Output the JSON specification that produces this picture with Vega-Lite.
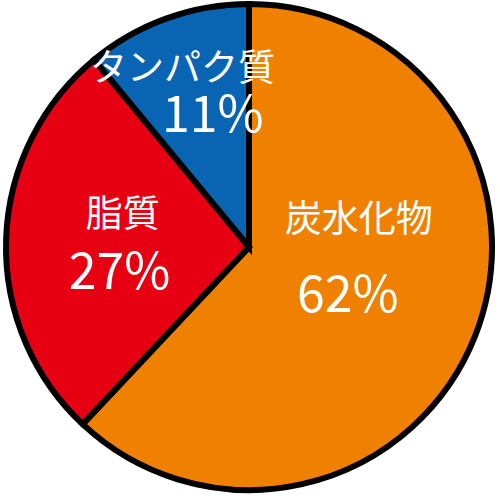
{
  "$schema": "https://vega.github.io/schema/vega-lite/v6.json",
  "width": 500,
  "height": 500,
  "autosize": {"type": "fit", "contains": "padding"},
  "padding": {"left": 3, "top": 1, "right": 5, "bottom": 7},
  "background": "white",
  "view": {"stroke": null},
  "datasets": {
    "nutrients": [
      {"name": "炭水化物", "share": 62, "order": 1},
      {"name": "脂質", "share": 27, "order": 2},
      {"name": "タンパク質", "share": 11, "order": 3}
    ],
    "labels": [
      {"text": "炭水化物", "kind": "name", "px": 0.455, "py": 0.106},
      {"text": "62%", "kind": "pct", "px": 0.41, "py": -0.207},
      {"text": "脂質", "kind": "name", "px": -0.524, "py": 0.13},
      {"text": "27%", "kind": "pct", "px": -0.537, "py": -0.11},
      {"text": "タンパク質", "kind": "name", "px": -0.276, "py": 0.736},
      {"text": "11%", "kind": "pct", "px": -0.15, "py": 0.541}
    ]
  },
  "layer": [
    {
      "data": {"name": "nutrients"},
      "mark": {"type": "arc", "outerRadius": 243, "stroke": "black", "strokeWidth": 6, "strokeJoin": "miter"},
      "encoding": {
        "theta": {"field": "share", "type": "quantitative", "stack": true},
        "order": {"field": "order", "type": "quantitative"},
        "color": {
          "field": "name",
          "type": "nominal",
          "scale": {"domain": ["炭水化物", "脂質", "タンパク質"], "range": ["#F08000", "#E60012", "#0A64B4"]},
          "legend": null
        }
      }
    },
    {
      "data": {"name": "labels"},
      "mark": {"type": "text", "color": "white", "font": "Noto Sans CJK JP", "baseline": "middle", "align": "center"},
      "encoding": {
        "x": {"field": "px", "type": "quantitative", "scale": {"domain": [-1, 1]}, "axis": null},
        "y": {"field": "py", "type": "quantitative", "scale": {"domain": [-1, 1]}, "axis": null},
        "text": {"field": "text"},
        "size": {"field": "kind", "type": "nominal", "scale": {"domain": ["name", "pct"], "range": [37, 50]}, "legend": null},
        "fontWeight": {"condition": {"test": "datum.kind === 'pct'", "value": 300}, "value": 700}
      }
    }
  ]
}
